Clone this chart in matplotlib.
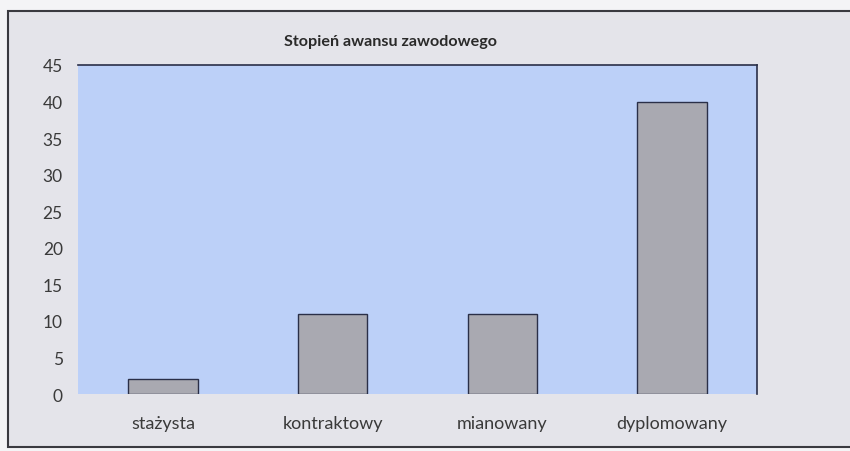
import matplotlib
matplotlib.use("Agg")
import matplotlib.pyplot as plt
from matplotlib.patches import Rectangle

# dane
kategorie = ["stażysta", "kontraktowy", "mianowany", "dyplomowany"]
wartosci = [2, 11, 11, 40]
y_ticks = [0, 5, 10, 15, 20, 25, 30, 35, 40, 45]

plt.rcParams['font.family'] = ['Lato', 'DejaVu Sans']

fig = plt.figure(figsize=(8.5, 4.52), dpi=100)
fig.patch.set_facecolor("#f4f4f6")

# ramka wykresu (pod osiami)
ramka = Rectangle((0.0094, 0.009), 1.0, 0.964, transform=fig.transFigure,
                  facecolor="#e4e4ea", edgecolor="#3a3a40", linewidth=1.5, zorder=-10)
fig.patches.append(ramka)

ax = fig.add_axes([0.0918, 0.126, 0.7988, 0.728])
ax.set_facecolor("#bcd0f8")

x = range(len(kategorie))
ax.bar(x, wartosci, width=0.41, color="#a9a9b1", edgecolor="#2a2f48", linewidth=1.0)

ax.set_ylim(0, 45)
ax.set_xlim(-0.5, len(kategorie) - 0.5)
ax.set_yticks(y_ticks)
ax.set_xticks(list(x))
ax.set_xticklabels(kategorie)
ax.tick_params(axis="both", length=0, colors="#3a3a3a")
ax.tick_params(axis="y", pad=11, labelsize=12.5)
ax.tick_params(axis="x", pad=15, labelsize=13)

for s in ["left", "bottom"]:
    ax.spines[s].set_visible(False)
for s in ["top", "right"]:
    ax.spines[s].set_color("#2a2f48")
    ax.spines[s].set_linewidth(1.2)

fig.text(0.46, 0.908, "Stopień awansu zawodowego", ha="center", va="center",
         fontsize=11.6, fontweight="bold", color="#2a2a2a")

fig.savefig("out.png", dpi=100)
